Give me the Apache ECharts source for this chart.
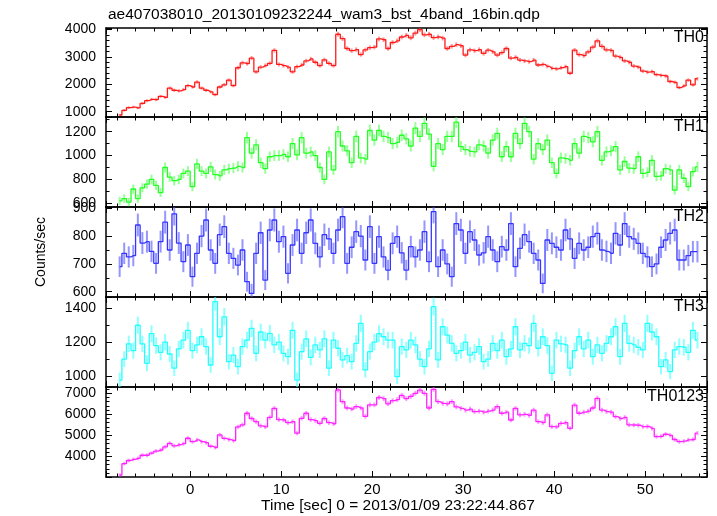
<!DOCTYPE html>
<html><head><meta charset="utf-8">
<script src="https://cdn.jsdelivr.net/npm/echarts@6/dist/echarts.min.js"></script>
<style>html,body{margin:0;padding:0;background:#fff}#c{width:717px;height:516px}</style>
</head><body><div id="c"></div><script>
// ---- data (count rates, counts/sec, 0.5 s bins) ----
const binStart = -7.75;   // centre of first bin (sec)
const binWidth = 0.5;     // sec
const th0 = [880,1050,1150,1170,1140,1300,1400,1450,1440,1560,
1520,1860,1780,1760,1800,1950,1900,2080,1860,1780,
1720,1620,1900,1980,2150,1950,2600,2780,2750,2950,
2450,2620,2680,2760,3230,2720,2680,2620,2450,2640,
2700,2850,2920,2800,2680,2890,2760,2680,3820,3660,
3300,3220,3260,3080,3250,3330,3350,3650,3620,3300,
3520,3580,3720,3780,3690,3860,3990,3800,3820,3700,
3720,3680,3300,3380,3440,3400,3060,3250,3220,3260,
3120,3240,3180,3060,3150,3300,2950,2980,2880,2850,
2820,2880,2700,2720,2650,2580,2560,2600,2640,2400,
3240,3080,3040,3180,3350,3580,3380,3250,3230,3020,
2980,2850,2800,2660,2620,2480,2440,2460,2350,2320,
2300,2100,2070,1880,1940,2150,1980,2200];
const th1 = [620,640,610,720,640,730,760,800,750,690,
900,820,790,800,850,870,740,930,870,850,
905,840,830,880,890,895,910,900,1150,1020,
1090,940,890,990,1000,1000,1010,990,1100,1005,
1150,1020,1030,1000,900,800,1030,880,1200,1080,
1040,940,1160,980,970,1210,1130,1210,1160,1150,
1100,1110,1170,1140,1080,1230,1160,1270,1180,910,
1100,1050,1160,1160,1280,1075,1050,1035,1030,1090,
1080,1020,1130,1185,990,1075,990,1185,1100,1270,
1200,970,1100,1050,1130,940,850,980,975,960,
1100,1020,1160,1150,1115,1200,960,1030,1040,1075,
880,950,895,890,990,850,860,960,825,830,
890,880,710,880,810,740,865,905];
const th2 = [690,738,725,730,840,775,780,745,702,780,
850,750,880,775,708,768,654,738,800,858,
750,702,805,834,738,720,696,750,636,594,
738,812,642,822,858,780,798,666,768,822,
738,812,858,774,725,805,790,738,822,870,
702,760,816,800,714,834,702,798,725,678,
774,798,740,678,762,725,750,816,708,888,
690,750,700,654,845,822,738,816,786,732,
740,798,750,708,762,750,845,690,756,805,
780,738,714,630,786,774,760,750,822,790,
720,774,750,760,798,810,750,745,738,810,
768,845,798,790,774,738,725,690,700,760,
786,810,822,714,714,730,744,744];
const th3 = [976,1100,1190,1150,1300,1190,1075,1250,1180,1140,
1200,1130,1046,1160,1212,1270,1150,1184,1232,1174,
1065,1440,1232,1350,1085,1124,1055,1174,1212,1282,
1134,1260,1212,1252,1184,1200,1134,1114,1270,976,
1144,1220,1110,1184,1154,1220,1046,1212,1164,1095,
1120,1085,1193,1311,1036,1144,1200,1250,1232,1212,
1212,996,1174,1154,1212,1184,1100,1055,1160,1410,
1095,1291,1242,1193,1134,1150,1200,1124,1140,1174,
1085,1100,1193,1150,1212,1114,1160,1291,1154,1193,
1180,1311,1164,1232,1180,1016,1212,1190,1184,1046,
1150,1232,1160,1212,1114,1184,1134,1193,1232,1291,
1114,1311,1193,1184,1170,1154,1311,1260,1232,1055,
1095,1026,1154,1174,1170,1140,1270,1212];
const th0123 = [3110,3650,3800,3850,3900,4050,4050,4150,4250,4300,
4450,4620,4500,4550,4600,4860,4700,4780,4700,4650,
4480,4420,5020,4850,4800,4750,5400,5500,6050,5800,
5650,5450,5400,5850,6285,5750,5730,5600,5650,5100,
5810,6050,5750,5700,5570,5800,5600,5550,7160,6600,
6300,6250,6365,6300,5900,6450,6450,6800,6750,6500,
6650,6700,6900,6750,6850,7000,7150,7000,6300,7190,
6600,6520,6500,6600,6350,6285,6200,6250,6130,6150,
6100,6150,6200,6365,6050,6100,5730,6285,5970,6000,
5950,6200,5650,5600,5970,5410,5400,5570,5600,5330,
6440,6050,6100,6150,6300,6760,6200,6130,6100,5890,
5800,5850,5500,5490,5480,5410,5420,5330,4940,4950,
5050,5000,4800,4700,4720,4780,4800,5100];
const bandNames = ['TH0','TH1','TH2','TH3','TH0123'];
const bandData = [th0, th1, th2, th3, th0123];
const titleText = 'ae407038010_20130109232244_wam3_bst_4band_16bin.qdp';
const xTitle = 'Time [sec] 0 = 2013/01/09 23:22:44.867';
const yTitle = 'Counts/sec';

// ---- layout / style ----
const FONT = '"Liberation Sans", Arial, Helvetica, sans-serif';
const XMIN = -9.25, XMAX = 56.8;
const gridTop = [28, 117, 207, 297, 387];
const gridH = [89, 90, 90, 90, 90];
const yRange = [[807,4047],[569,1323],[581,904.7],[935,1467],[3015,7300]];
const yMajor = [1000, 200, 100, 200, 1000];
const ySplitMajor = [3, 4, 3, 3, 4];
const ySplitMinor = [16, 8, 6, 5, 21];
const colors = ['#ff1a1a', '#22ff22', '#3535ff', '#22ffff', '#ff22ff'];
const errColors = ['rgba(255,70,70,0.55)','rgba(70,255,70,0.55)','rgba(80,80,255,0.6)','rgba(70,255,255,0.6)','rgba(255,70,255,0.55)'];

const grids = [], xAxes = [], yAxes = [], series = [];
function isMult(v, s){ return Math.abs(v/s - Math.round(v/s)) < 1e-6; }
for (let i = 0; i < 5; i++) {
  grids.push({left: 106, right: 10, top: gridTop[i], height: gridH[i]});
  const lineStyle = {color: '#000', width: 1.5};
  const tickStyle = {color: '#000', width: 1};
  ['bottom','top'].forEach(pos => {
    xAxes.push({type:'value', gridIndex:i, position:pos, min:XMIN, max:XMAX, splitNumber:6,
      axisLine:{show:true, onZero:false, lineStyle},
      axisTick:{show:true, inside:true, length:6, lineStyle:tickStyle},
      axisLabel:{show: (i===4 && pos==='bottom'), margin:5, fontSize:15, fontFamily:FONT, color:'#000',
        formatter: v => isMult(v,10) ? String(Math.round(v)) : ''},
      splitLine:{show:false}});
  });
  ['bottom','top'].forEach(pos => {
    xAxes.push({type:'value', gridIndex:i, position:pos, min:XMIN, max:XMAX, splitNumber:33,
      axisLine:{show:false, onZero:false},
      axisTick:{show:true, inside:true, length:3.5, lineStyle:tickStyle},
      axisLabel:{show:false}, splitLine:{show:false}});
  });
  ['left','right'].forEach(pos => {
    yAxes.push({type:'value', gridIndex:i, position:pos, min:yRange[i][0], max:yRange[i][1], splitNumber:ySplitMajor[i],
      axisLine:{show:true, onZero:false, lineStyle},
      axisTick:{show:true, inside:true, length:6, lineStyle:tickStyle},
      axisLabel:{show: pos==='left', margin:10, fontSize:14, fontFamily:FONT, color:'#000',
        formatter: v => isMult(v, yMajor[i]) ? String(Math.round(v)) : ''},
      splitLine:{show:false}});
  });
  ['left','right'].forEach(pos => {
    yAxes.push({type:'value', gridIndex:i, position:pos, min:yRange[i][0], max:yRange[i][1], splitNumber:ySplitMinor[i],
      axisLine:{show:false, onZero:false},
      axisTick:{show:true, inside:true, length:3.5, lineStyle:tickStyle},
      axisLabel:{show:false}, splitLine:{show:false}});
  });
  const col = colors[i], ecol = errColors[i];
  const data = bandData[i].map((v, k) => [binStart + k*binWidth, v, Math.sqrt(v/binWidth)]);
  // error bars
  series.push({
    type:'custom', xAxisIndex: 4*i, yAxisIndex: 4*i, clip: true, data: data,
    encode:{x:0, y:1}, z:2,
    renderItem: function(params, api){
      const t = api.value(0), v = api.value(1), e = api.value(2);
      const lo = api.coord([t, v - e]), hi = api.coord([t, v + e]);
      return {type:'line', shape:{x1:lo[0], y1:lo[1], x2:hi[0], y2:hi[1]}, style:{stroke:ecol, lineWidth:2}};
    }
  });
  // histogram step line
  series.push({
    type:'line', xAxisIndex: 4*i, yAxisIndex: 4*i, step:'middle', showSymbol:false, symbol:'none',
    data: data.map(d => [d[0], d[1]]), z:3, clip:true,
    lineStyle:{color:col, width:1.3}
  });
}

const graphic = [
  {type:'text', x:108, y:15, style:{text:titleText, fontSize:15.5, fontFamily:FONT, fill:'#000', align:'left', verticalAlign:'middle'}},
  {type:'text', x:398, y:506, style:{text:xTitle, fontSize:15.5, fontFamily:FONT, fill:'#000', align:'center', verticalAlign:'middle'}},
  {type:'text', x:41, y:252, rotation:Math.PI/2, style:{text:yTitle, fontSize:14, fontFamily:FONT, fill:'#000', align:'center', verticalAlign:'middle'}}
];
bandNames.forEach((n, i) => {
  graphic.push({type:'text', x:704, y:gridTop[i] + 10, style:{text:n, fontSize:16, fontFamily:FONT, fill:'#000', align:'right', verticalAlign:'middle'}});
});

const chart = echarts.init(document.getElementById('c'), null, {renderer:'canvas'});
chart.setOption({animation:false, backgroundColor:'#fff', grid:grids, xAxis:xAxes, yAxis:yAxes, series:series, graphic:graphic});
</script></body></html>
